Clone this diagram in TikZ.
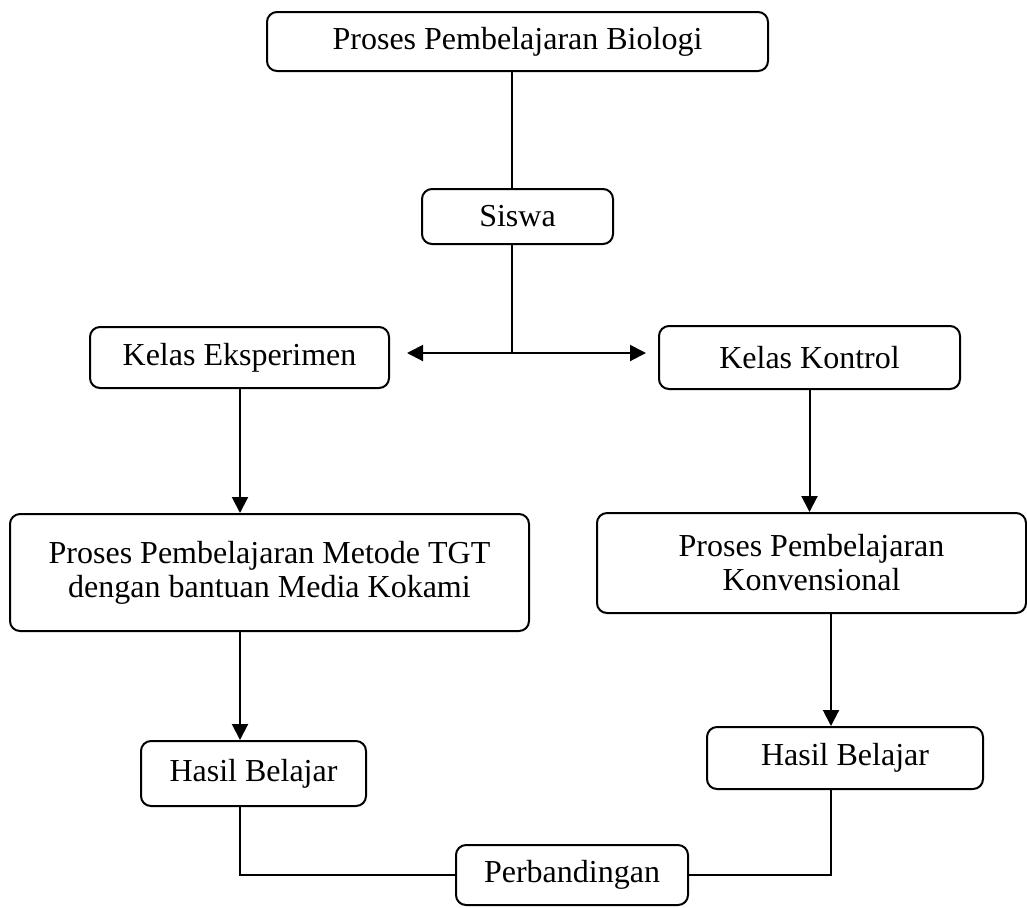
\documentclass[tikz,border=0pt]{standalone}
\usepackage{fontspec}
\setmainfont{Liberation Serif}
\usetikzlibrary{arrows.meta}

\begin{document}
\begin{tikzpicture}[x=0.5pt,y=-0.5pt,
  box/.style={draw,rounded corners=5pt,line width=1pt,inner sep=0pt,align=center,
    font=\fontsize{16}{17}\selectfont},
  link/.style={line width=0.8pt},
  arr/.style={line width=1pt,-{Triangle[length=8pt,width=8pt]}}]
  \useasboundingbox (0,0) rectangle (1027,907);
  \node[box,minimum width=250.5pt,minimum height=29.5pt] (top) at (517.5,41.5)
    {Proses Pembelajaran Biologi};
  \node[box,minimum width=95.5pt,minimum height=27.5pt] (siswa) at (517.5,216.5) {Siswa};
  \node[box,minimum width=149.5pt,minimum height=30.5pt] (eks) at (239.5,357.5)
    {Kelas Eksperimen};
  \node[box,minimum width=150.5pt,minimum height=31.5pt] (kon) at (809.5,357.5)
    {Kelas Kontrol};
  \node[box,minimum width=259.5pt,minimum height=58.5pt] (tgt) at (269.5,572.5)
    {Proses Pembelajaran Metode TGT\\dengan bantuan Media Kokami};
  \node[box,minimum width=214.5pt,minimum height=50pt] (konv) at (811.5,563)
    {Proses Pembelajaran\\Konvensional};
  \node[box,minimum width=112.5pt,minimum height=32.5pt] (hasilL) at (253.5,773.5)
    {Hasil Belajar};
  \node[box,minimum width=138pt,minimum height=31pt] (hasilR) at (845,758)
    {Hasil Belajar};
  \node[box,minimum width=116pt,minimum height=30pt] (banding) at (572,875)
    {Perbandingan};
  \coordinate (split) at (512,353);
  \coordinate (lx) at (240,0);
  \coordinate (rx) at (831,0);
  \draw[link] (top.south -| split) -- (siswa.north -| split);
  \draw[link] (siswa.south -| split) -- (split);
  \draw[arr,shorten >=8.5pt] (split) -- (split -| eks.east);
  \draw[arr,shorten >=6pt] (split) -- (split -| kon.west);
  \draw[arr] (eks.south -| lx) -- (tgt.north -| lx);
  \draw[arr] (kon.south) -- (kon.south |- konv.north);
  \draw[arr] (tgt.south -| lx) -- (hasilL.north -| lx);
  \draw[arr] (konv.south -| rx) -- (hasilR.north -| rx);
  \draw[link] (hasilL.south -| lx) |- (banding.west);
  \draw[link] (hasilR.south -| rx) |- (banding.east);
\end{tikzpicture}
\end{document}
